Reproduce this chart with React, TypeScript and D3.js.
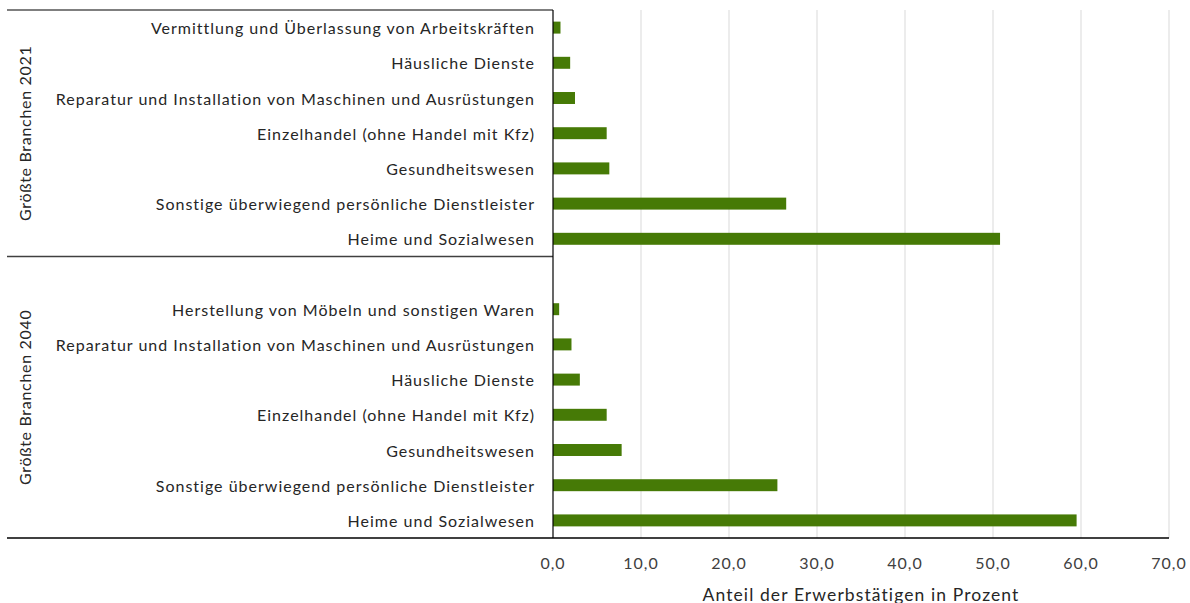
import React from "react";
import * as d3 from "d3";

const groupLabels = ["Größte Branchen 2021", "Größte Branchen 2040"];
const categories2021 = [
  "Vermittlung und Überlassung von Arbeitskräften",
  "Häusliche Dienste",
  "Reparatur und Installation von Maschinen und Ausrüstungen",
  "Einzelhandel (ohne Handel mit Kfz)",
  "Gesundheitswesen",
  "Sonstige überwiegend persönliche Dienstleister",
  "Heime und Sozialwesen",
];
const values2021 = [0.85, 1.95, 2.5, 6.1, 6.4, 26.5, 50.8];
const categories2040 = [
  "Herstellung von Möbeln und sonstigen Waren",
  "Reparatur und Installation von Maschinen und Ausrüstungen",
  "Häusliche Dienste",
  "Einzelhandel (ohne Handel mit Kfz)",
  "Gesundheitswesen",
  "Sonstige überwiegend persönliche Dienstleister",
  "Heime und Sozialwesen",
];
const values2040 = [0.7, 2.1, 3.05, 6.1, 7.8, 25.5, 59.5];
const xTicks = [0, 10, 20, 30, 40, 50, 60, 70];
const xTitle = "Anteil der Erwerbstätigen in Prozent";

const W = 1190;
const H = 603;
const FONT = "Lato, 'Open Sans', sans-serif";

export default function App() {
  const rows = [
    ...categories2021.map((c, i) => ({ key: "a" + i, label: c, value: values2021[i], group: 0 })),
    { key: "blank", label: "", value: null as number | null, group: 1 },
    ...categories2040.map((c, i) => ({ key: "b" + i, label: c, value: values2040[i], group: 1 })),
  ];
  const left = 553;
  const right = 1169;
  const top = 10;
  const bottom = 538;
  const x = d3.scaleLinear().domain([0, 70]).range([left, right]);
  const y = d3
    .scaleBand<string>()
    .domain(rows.map((r) => r.key))
    .range([top, bottom])
    .paddingInner(0.66)
    .paddingOuter(0.33);
  const step = y.step();
  const bw = y.bandwidth();
  const sepY = (y("blank") as number) - (step - bw) / 2;
  const groupCenters = [(top + sepY) / 2, (sepY + bottom) / 2];
  const fmt = (v: number) => d3.format(".1f")(v).replace(".", ",");

  return (
    <svg width={W} height={H} style={{ position: "absolute", left: 0, top: 0, background: "#fff" }}>
      <rect x={0} y={0} width={W} height={H} fill="#fff" />
      {xTicks.slice(1).map((t) => (
        <line key={t} x1={x(t)} x2={x(t)} y1={top} y2={bottom} stroke="#d9d9d9" strokeWidth={1} />
      ))}
      {rows.map((r) =>
        r.value == null ? null : (
          <rect
            key={r.key}
            x={x(0)}
            y={y(r.key)}
            width={x(r.value) - x(0)}
            height={bw}
            fill="#467a06"
          />
        )
      )}
      {rows.map((r) =>
        r.label ? (
          <text
            key={"l" + r.key}
            x={535}
            y={(y(r.key) as number) + bw / 2}
            textAnchor="end"
            dominantBaseline="central"
            fontFamily={FONT}
            fontSize={16}
            letterSpacing={1}
            fill="#262626"
          >
            {r.label}
          </text>
        ) : null
      )}
      {groupLabels.map((g, i) => (
        <text
          key={g}
          transform={`translate(24,${groupCenters[i]}) rotate(-90)`}
          textAnchor="middle"
          dominantBaseline="central"
          fontFamily={FONT}
          fontSize={16}
          letterSpacing={0.7}
          fill="#262626"
        >
          {g}
        </text>
      ))}
      <line x1={7} x2={left} y1={top} y2={top} stroke="#000" strokeWidth={1.2} />
      <line x1={7} x2={left} y1={sepY} y2={sepY} stroke="#404040" strokeWidth={1.5} />
      <line x1={7} x2={right} y1={bottom} y2={bottom} stroke="#000" strokeWidth={1.5} />
      <line x1={left} x2={left} y1={top} y2={bottom} stroke="#000" strokeWidth={1.2} />
      {xTicks.map((t) => (
        <text
          key={"t" + t}
          x={x(t)}
          y={562}
          textAnchor="middle"
          dominantBaseline="central"
          fontFamily={FONT}
          fontSize={16}
          letterSpacing={1}
          fill="#404040"
        >
          {fmt(t)}
        </text>
      ))}
      <text
        x={(left + right) / 2}
        y={594}
        textAnchor="middle"
        dominantBaseline="central"
        fontFamily={FONT}
        fontSize={17.5}
        letterSpacing={1.1}
        fill="#262626"
      >
        {xTitle}
      </text>
    </svg>
  );
}
